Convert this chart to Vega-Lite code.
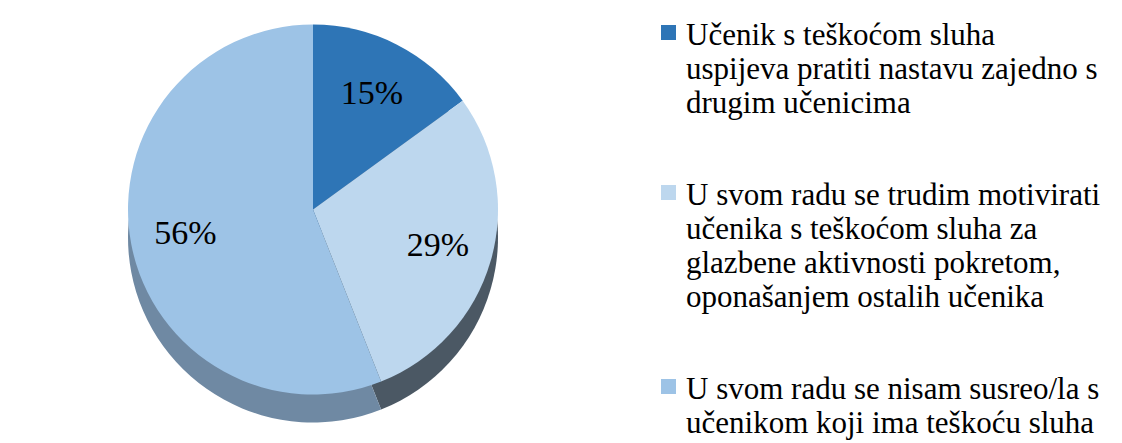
{
  "$schema": "https://vega.github.io/schema/vega-lite/v6.json",
  "autosize": {"type": "fit", "contains": "padding"},
  "width": 1122,
  "height": 443,
  "padding": {"left": 0, "right": 4, "top": 0, "bottom": 0},
  "background": "white",
  "config": {"view": {"stroke": null}, "font": "Liberation Serif"},
  "data": {
    "values": [
      {"rank": 1, "cat": "Učenik s teškoćom sluha\nuspijeva pratiti nastavu zajedno s\ndrugim učenicima", "pct": 15, "label": "15%", "side": "a"},
      {"rank": 2, "cat": "U svom radu se trudim motivirati\nučenika s teškoćom sluha za\nglazbene aktivnosti pokretom,\noponašanjem ostalih učenika", "pct": 29, "label": "29%", "side": "b"},
      {"rank": 3, "cat": "U svom radu se nisam susreo/la s\nučenikom koji ima teškoću sluha", "pct": 56, "label": "56%", "side": "c"}
    ]
  },
  "encoding": {
    "theta": {"field": "pct", "type": "quantitative", "stack": true},
    "order": {"field": "rank", "type": "quantitative"}
  },
  "layer": [
    {
      "mark": {"type": "arc", "outerRadius": 185, "yOffset": 16},
      "encoding": {
        "fill": {"field": "side", "type": "nominal", "legend": null,
          "scale": {"domain": ["a", "b", "c"], "range": ["#1F4F7C", "#4B5864", "#6F89A3"]}}
      }
    },
    {
      "mark": {"type": "arc", "outerRadius": 185, "yOffset": -12},
      "encoding": {
        "color": {"field": "cat", "type": "nominal", "sort": null,
          "scale": {"range": ["#2E75B6", "#BDD7EE", "#9DC3E6"]},
          "legend": {
            "title": null,
            "orient": "right",
            "offset": 10,
            "padding": 17,
            "symbolType": "square",
            "symbolSize": 225,
            "symbolStrokeWidth": 0,
            "labelFont": "Liberation Serif",
            "labelFontSize": 31,
            "labelColor": "black",
            "labelLimit": 0,
            "labelOffset": 2,
            "rowPadding": 58,
            "labelExpr": "split(datum.label, '\\n')",
            "labelBaseline": "top",
            "encode": {
              "labels": {"update": {"lineHeight": {"value": 34}, "dy": {"value": -12}}}
            }
          }
        }
      }
    },
    {
      "mark": {"type": "text", "radius": 130, "yOffset": -12, "font": "Liberation Serif", "fontSize": 34, "color": "black"},
      "encoding": {
        "text": {"field": "label", "type": "nominal"}
      }
    }
  ]
}
